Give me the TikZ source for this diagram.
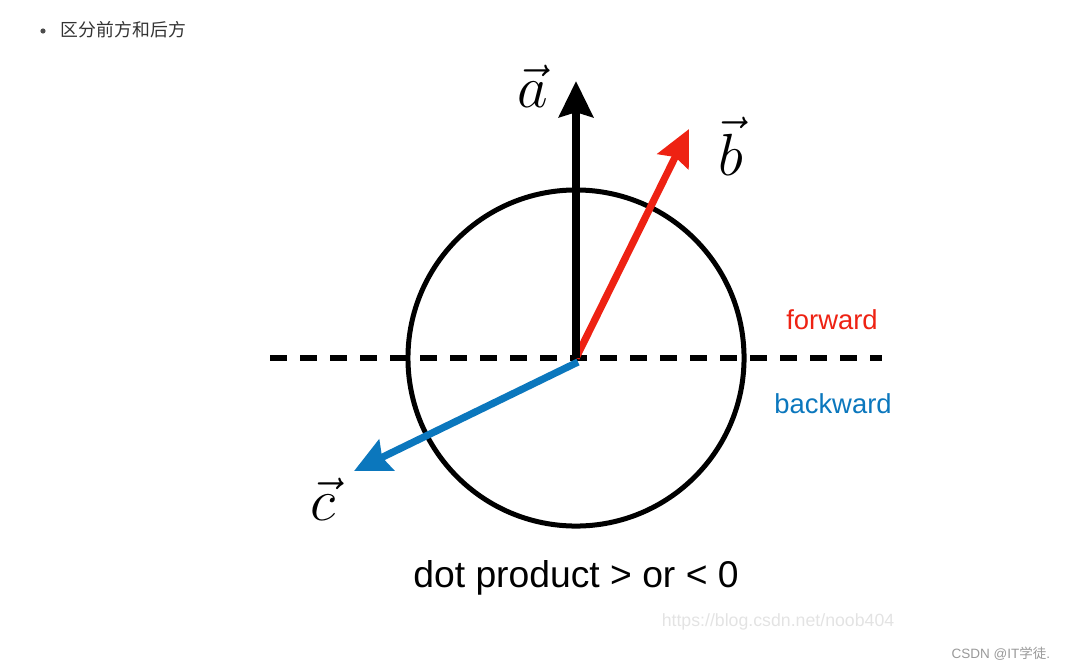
\documentclass[tikz,border=0pt]{standalone}
\usepackage{fontspec}
\setmainfont{Liberation Sans}
\newfontfamily\cjk{Noto Sans CJK SC}
\usetikzlibrary{arrows.meta, positioning}
\definecolor{cred}{HTML}{EE2213}
\definecolor{cblue}{HTML}{0B77BD}
\definecolor{cgrey}{HTML}{999999}
\definecolor{cmark}{HTML}{E3E3E3}
\tikzset{
  vec/.style={line width=#1, line cap=butt},
  vec/.default=0.19cm,
  tip/.style={-{Stealth[length=0.9cm, width=0.85cm, inset=0.12cm]}},
  veclabel/.style={font=\Huge, scale=1.7},
  side/.style={font=\fontsize{19.5}{22}\selectfont},
}
\begin{document}
\begin{tikzpicture}[x=0.025cm, y=-0.025cm]
  \useasboundingbox (0,0) rectangle (1070,671);
  % heading line
  \fill[black!70] (43,31) circle (2.6);
  \node[anchor=west, font=\cjk\fontsize{12.7}{15}\selectfont, text=black!80] (head) at (56,30) {区分前方和后方};
  % circle and horizon
  \coordinate (o) at (576,358);
  \draw[line width=0.125cm] (o) circle [radius=4.2cm];
  \coordinate (hl) at (270,358);
  \coordinate (hr) at (882,358);
  \draw[line width=0.15cm, dash pattern=on 0.43cm off 0.32cm] (hl) -- (hr);
  % the three vectors
  \coordinate (ta) at (576,81);
  \coordinate (tb) at (689,129);
  \coordinate (tc) at (354,471);
  \draw[vec=0.18cm, tip, draw=cblue, fill=cblue] (578,362) -- (tc);
  \draw[vec=0.18cm, tip, draw=cred, fill=cred] (o) -- (tb);
  \draw[vec, tip] (o) -- (ta);
  \node[veclabel] (la) at (533,86) {$\vec{a}$};
  \node[veclabel] (lb) at (731,146) {$\vec{b}$};
  \node[veclabel] (lc) at (323,499) {$\vec{c}$};
  % sides
  \node[side, text=cred] (fw) at (832,320) {forward};
  \node[side, text=cblue] (bw) at (833,404) {backward};
  \node[font=\fontsize{26.5}{30}\selectfont] (dp) at (576,578) {dot product > or < 0};
  % marks of the page
  \node[font=\fontsize{12.6}{15}\selectfont, text=cmark] (url) at (778,622) {https://blog.csdn.net/noob404};
  \node[font=\fontsize{9.6}{12}\selectfont, text=cgrey, anchor=east] (by) at (1055,654) {CSDN @IT{\cjk 学徒}.};
\end{tikzpicture}
\end{document}
